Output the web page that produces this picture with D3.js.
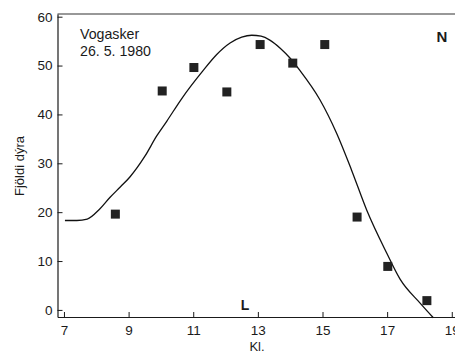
<!DOCTYPE html>
<html>
<head>
<meta charset="utf-8">
<script src="https://cdn.jsdelivr.net/npm/d3@7"></script>
<style>
  html, body { margin: 0; padding: 0; background: #fff; }
  svg text { font-family: "Liberation Sans", Arial, Helvetica, sans-serif; fill: #1a1a1a; }
</style>
</head>
<body>
<svg id="chart" width="455" height="354"></svg>
<script>
// Observed counts (hour of day, number of animals)
const obsHours  = [8.59, 10.04, 11.02, 12.04, 13.07, 14.08, 15.07, 16.07, 17.02, 18.23];
const obsCounts = [19.6, 44.8, 49.6, 44.6, 54.3, 50.5, 54.3, 19.0, 8.9, 1.9];

// Fitted activity curve
const curveHours  = [7.03, 7.4, 7.72, 8.1, 8.42, 8.75, 9.04, 9.5, 9.87, 10.18, 10.64, 11.31, 11.72, 12.14, 12.5, 12.81, 13.1, 13.37, 13.7, 14.0, 14.3, 14.92, 15.44, 15.9, 16.37, 16.99, 17.4, 18.02, 18.43];
const curveCounts = [18.3, 18.3, 18.6, 20.6, 23.0, 25.2, 27.2, 31.4, 35.6, 38.6, 43.2, 49.0, 52.2, 54.6, 55.8, 56.2, 56.0, 55.2, 53.5, 51.5, 49.0, 43.0, 36.1, 28.6, 20.4, 11.6, 6.3, 1.4, -1.6];

const xTicks = [7, 9, 11, 13, 15, 17, 19];
const yTicks = [0, 10, 20, 30, 40, 50, 60];

const svg = d3.select("#chart");
const plotLeft = 57.5, plotRight = 455, plotTop = 14, plotBottom = 317;

const x = d3.scaleLinear().domain([6.8, 19.1]).range([plotLeft, plotRight]);
const y = d3.scaleLinear().domain([-1.45, 60.55]).range([plotBottom, plotTop]);

const ink = "#1a1a1a";

// frame: top edge
svg.append("line")
  .attr("x1", plotLeft).attr("x2", plotRight).attr("y1", plotTop).attr("y2", plotTop)
  .attr("stroke", "#333").attr("stroke-width", 1.2);

// x axis, ticks pointing inward
const xAxis = svg.append("g").attr("transform", `translate(0,${plotBottom})`)
  .call(d3.axisBottom(x).tickValues(xTicks).tickSizeInner(-5).tickSizeOuter(0));
xAxis.select(".domain").attr("stroke", ink).attr("stroke-width", 1.2);
xAxis.selectAll(".tick line").attr("stroke", ink);
xAxis.selectAll(".tick text").attr("font-size", 13.5).attr("fill", ink)
  .attr("dy", "0.71em").attr("y", 8);

// y axis, ticks pointing inward
const yAxis = svg.append("g").attr("transform", `translate(${plotLeft},0)`)
  .call(d3.axisLeft(y).tickValues(yTicks).tickSizeInner(-5).tickSizeOuter(0));
yAxis.select(".domain").attr("stroke", ink).attr("stroke-width", 1.2);
yAxis.selectAll(".tick line").attr("stroke", ink);
yAxis.selectAll(".tick text").attr("font-size", 13.5).attr("fill", ink).attr("x", -5);

// fitted curve
const line = d3.line()
  .x(d => x(d[0])).y(d => y(d[1]))
  .curve(d3.curveMonotoneX);
svg.append("path")
  .datum(curveHours.map((h, i) => [h, curveCounts[i]]))
  .attr("d", line)
  .attr("fill", "none").attr("stroke", "#111").attr("stroke-width", 1.3);

// observations as filled squares
const s = 9;
svg.selectAll("rect.obs")
  .data(obsHours.map((h, i) => [h, obsCounts[i]]))
  .join("rect").attr("class", "obs")
  .attr("x", d => x(d[0]) - s / 2).attr("y", d => y(d[1]) - s / 2)
  .attr("width", s).attr("height", s)
  .attr("fill", "#222");

// labels
svg.append("text").attr("x", 80).attr("y", 39).attr("font-size", 14.2).text("Vogasker");
svg.append("text").attr("x", 80).attr("y", 56).attr("font-size", 14.2).text("26. 5. 1980");
svg.append("text").attr("x", 442).attr("y", 41.5).attr("font-size", 15)
  .attr("font-weight", "bold").attr("text-anchor", "middle").text("N");
svg.append("text").attr("x", 245).attr("y", 310).attr("font-size", 14)
  .attr("font-weight", "bold").attr("text-anchor", "middle").text("L");
svg.append("text").attr("x", 257).attr("y", 351).attr("font-size", 13)
  .attr("text-anchor", "middle").text("Kl.");
svg.append("text")
  .attr("transform", "translate(24,166) rotate(-90)")
  .attr("font-size", 13).attr("text-anchor", "middle").text("Fjöldi dýra");
</script>
</body>
</html>
